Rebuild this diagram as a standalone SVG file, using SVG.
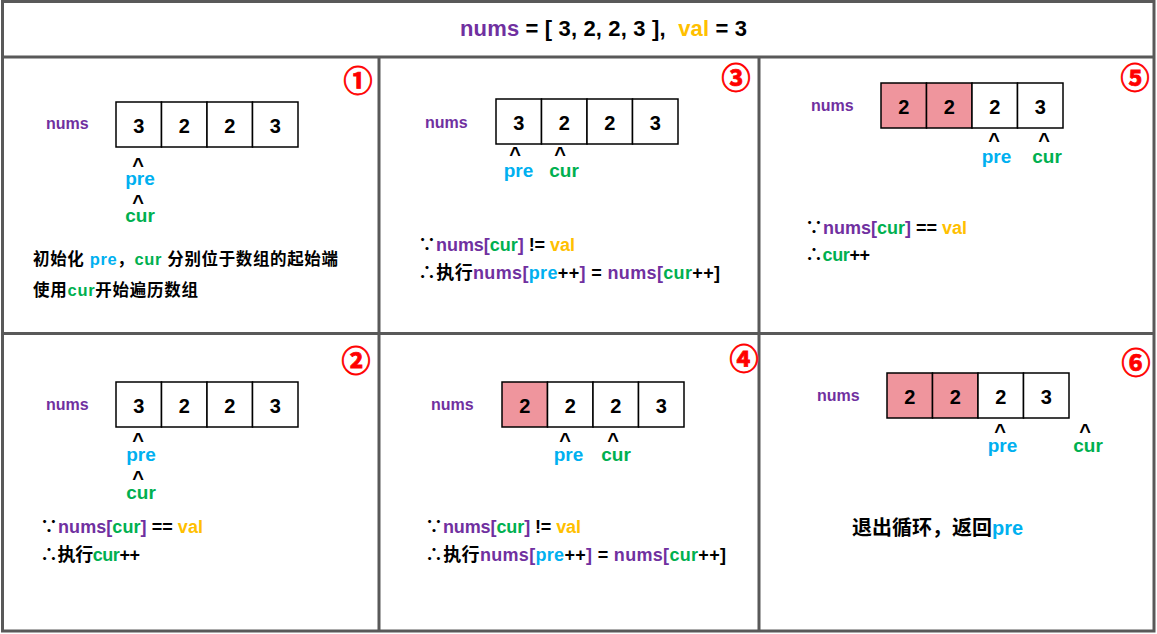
<svg xmlns="http://www.w3.org/2000/svg" width="1157" height="634" viewBox="0 0 1157 634">
<style>
text{font-family:"Liberation Sans","Noto Sans CJK SC",sans-serif;font-weight:bold;white-space:pre}
.frame{fill:none;stroke:#595959;stroke-width:3}
.cell{fill:#fff;stroke:#000;stroke-width:1.5}
.hit{fill:#ef959d;stroke:#000;stroke-width:1.5}
.dig{font-size:20px;fill:#000;text-anchor:middle}
.lbl{font-size:16px;fill:#7030a0}
.car{font-size:20px;fill:#000;text-anchor:middle}
.ptr{font-size:19px;text-anchor:middle}
.st{font-size:18px;fill:#000}
.num{font-family:"Noto Sans CJK SC",sans-serif;font-size:29px;fill:#f00;stroke:#f00;stroke-width:0.8;text-anchor:middle}
.p{fill:#7030a0}.b{fill:#00b0f0}.g{fill:#00b050}.y{fill:#ffc000}.k{fill:#000}
</style>
<rect x="0" y="0" width="1157" height="634" fill="#fff"/>
<g id="frame">
<rect class="frame" x="2.5" y="1.5" width="1151.5" height="629.5"/>
<line class="frame" x1="2.5" y1="57" x2="1154" y2="57"/>
<line class="frame" x1="2.5" y1="333.5" x2="1154" y2="333.5"/>
<line class="frame" x1="379" y1="57" x2="379" y2="631"/>
<line class="frame" x1="759" y1="57" x2="759" y2="631"/>
</g>
<g id="title">
<text x="460" y="36" style="font-size:22px" textLength="287" lengthAdjust="spacing"><tspan class="p">nums</tspan><tspan class="k"> = [ 3, 2, 2, 3 ],  </tspan><tspan class="y">val</tspan><tspan class="k"> = 3</tspan></text>
</g>
<g id="connectors"/>
<g id="step1">
<text class="num" x="358" y="92">①</text>
<text class="lbl" x="46" y="129">nums</text>
<rect class="cell" x="116" y="102" width="45.5" height="45"/>
<rect class="cell" x="161.5" y="102" width="45.5" height="45"/>
<rect class="cell" x="207" y="102" width="45.5" height="45"/>
<rect class="cell" x="252.5" y="102" width="45.5" height="45"/>
<text class="dig" x="138.75" y="133">3</text>
<text class="dig" x="184.25" y="133">2</text>
<text class="dig" x="229.75" y="133">2</text>
<text class="dig" x="275.25" y="133">3</text>
<text class="car" x="138" y="172">^</text>
<text class="ptr b" x="140" y="185">pre</text>
<text class="car" x="138" y="209">^</text>
<text class="ptr g" x="140" y="222">cur</text>
<text class="st" x="33" y="265" style="font-size:16.5px" textLength="305" lengthAdjust="spacing">初始化 <tspan class="b">pre</tspan>，<tspan class="g">cur</tspan> 分别位于数组的起始端</text>
<text class="st" x="33" y="296" style="font-size:16.5px" textLength="165" lengthAdjust="spacing">使用<tspan class="g">cur</tspan>开始遍历数组</text>
</g>
<g id="step2">
<text class="num" x="356" y="372">②</text>
<text class="lbl" x="46" y="410">nums</text>
<rect class="cell" x="116" y="382" width="45.5" height="45"/>
<rect class="cell" x="161.5" y="382" width="45.5" height="45"/>
<rect class="cell" x="207" y="382" width="45.5" height="45"/>
<rect class="cell" x="252.5" y="382" width="45.5" height="45"/>
<text class="dig" x="138.75" y="413">3</text>
<text class="dig" x="184.25" y="413">2</text>
<text class="dig" x="229.75" y="413">2</text>
<text class="dig" x="275.25" y="413">3</text>
<text class="car" x="138" y="447">^</text>
<text class="ptr b" x="141" y="461">pre</text>
<text class="car" x="138" y="485">^</text>
<text class="ptr g" x="141" y="499">cur</text>
<text class="st" x="40" y="533" textLength="163" lengthAdjust="spacing">∵<tspan class="p">nums[</tspan><tspan class="g">cur</tspan><tspan class="p">]</tspan> == <tspan class="y">val</tspan></text>
<text class="st" x="40" y="561" textLength="100" lengthAdjust="spacing">∴执行<tspan class="g">cur</tspan>++</text>
</g>
<g id="step3">
<text class="num" x="736" y="89">③</text>
<text class="lbl" x="425" y="128">nums</text>
<rect class="cell" x="496" y="99" width="45.5" height="45"/>
<rect class="cell" x="541.5" y="99" width="45.5" height="45"/>
<rect class="cell" x="587" y="99" width="45.5" height="45"/>
<rect class="cell" x="632.5" y="99" width="45.5" height="45"/>
<text class="dig" x="518.75" y="130">3</text>
<text class="dig" x="564.25" y="130">2</text>
<text class="dig" x="609.75" y="130">2</text>
<text class="dig" x="655.25" y="130">3</text>
<text class="car" x="515" y="161">^</text>
<text class="car" x="560" y="161">^</text>
<text class="ptr b" x="518.5" y="177">pre</text>
<text class="ptr g" x="564" y="177">cur</text>
<text class="st" x="418" y="251" textLength="157" lengthAdjust="spacing">∵<tspan class="p">nums[</tspan><tspan class="g">cur</tspan><tspan class="p">]</tspan> != <tspan class="y">val</tspan></text>
<text class="st" x="418" y="279" textLength="302" lengthAdjust="spacing">∴执行<tspan class="p">nums[</tspan><tspan class="b">pre</tspan>++<tspan class="p">]</tspan> = <tspan class="p">nums[</tspan><tspan class="g">cur</tspan>++]</text>
</g>
<g id="step4">
<text class="num" x="744" y="370">④</text>
<text class="lbl" x="431" y="410">nums</text>
<rect class="hit" x="502" y="382" width="45.5" height="45"/>
<rect class="cell" x="547.5" y="382" width="45.5" height="45"/>
<rect class="cell" x="593" y="382" width="45.5" height="45"/>
<rect class="cell" x="638.5" y="382" width="45.5" height="45"/>
<text class="dig" x="524.75" y="413">2</text>
<text class="dig" x="570.25" y="413">2</text>
<text class="dig" x="615.75" y="413">2</text>
<text class="dig" x="661.25" y="413">3</text>
<text class="car" x="565" y="447">^</text>
<text class="car" x="613" y="447">^</text>
<text class="ptr b" x="568.5" y="461">pre</text>
<text class="ptr g" x="616" y="461">cur</text>
<text class="st" x="425" y="533" textLength="156" lengthAdjust="spacing">∵<tspan class="p">nums[</tspan><tspan class="g">cur</tspan><tspan class="p">]</tspan> != <tspan class="y">val</tspan></text>
<text class="st" x="425" y="561" textLength="301" lengthAdjust="spacing">∴执行<tspan class="p">nums[</tspan><tspan class="b">pre</tspan>++<tspan class="p">]</tspan> = <tspan class="p">nums[</tspan><tspan class="g">cur</tspan>++]</text>
</g>
<g id="step5">
<text class="num" x="1135" y="89">⑤</text>
<text class="lbl" x="811" y="111">nums</text>
<rect class="hit" x="881" y="83" width="45.5" height="45"/>
<rect class="hit" x="926.5" y="83" width="45.5" height="45"/>
<rect class="cell" x="972" y="83" width="45.5" height="45"/>
<rect class="cell" x="1017.5" y="83" width="45.5" height="45"/>
<text class="dig" x="903.75" y="114">2</text>
<text class="dig" x="949.25" y="114">2</text>
<text class="dig" x="994.75" y="114">2</text>
<text class="dig" x="1040.25" y="114">3</text>
<text class="car" x="994" y="147">^</text>
<text class="car" x="1044" y="147">^</text>
<text class="ptr b" x="996.5" y="163">pre</text>
<text class="ptr g" x="1047" y="163">cur</text>
<text class="st" x="805" y="234" textLength="162" lengthAdjust="spacing">∵<tspan class="p">nums[</tspan><tspan class="g">cur</tspan><tspan class="p">]</tspan> == <tspan class="y">val</tspan></text>
<text class="st" x="805" y="261" textLength="65" lengthAdjust="spacing">∴<tspan class="g">cur</tspan>++</text>
</g>
<g id="step6">
<text class="num" x="1136" y="374">⑥</text>
<text class="lbl" x="817" y="401">nums</text>
<rect class="hit" x="887" y="373" width="45.5" height="45"/>
<rect class="hit" x="932.5" y="373" width="45.5" height="45"/>
<rect class="cell" x="978" y="373" width="45.5" height="45"/>
<rect class="cell" x="1023.5" y="373" width="45.5" height="45"/>
<text class="dig" x="909.75" y="404">2</text>
<text class="dig" x="955.25" y="404">2</text>
<text class="dig" x="1000.75" y="404">2</text>
<text class="dig" x="1046.25" y="404">3</text>
<text class="car" x="1000" y="438">^</text>
<text class="car" x="1085" y="438">^</text>
<text class="ptr b" x="1002.5" y="452">pre</text>
<text class="ptr g" x="1088" y="452">cur</text>
<text class="st" x="852" y="535" style="font-size:20px">退出循环，返回<tspan class="b">pre</tspan></text>
</g>
</svg>
